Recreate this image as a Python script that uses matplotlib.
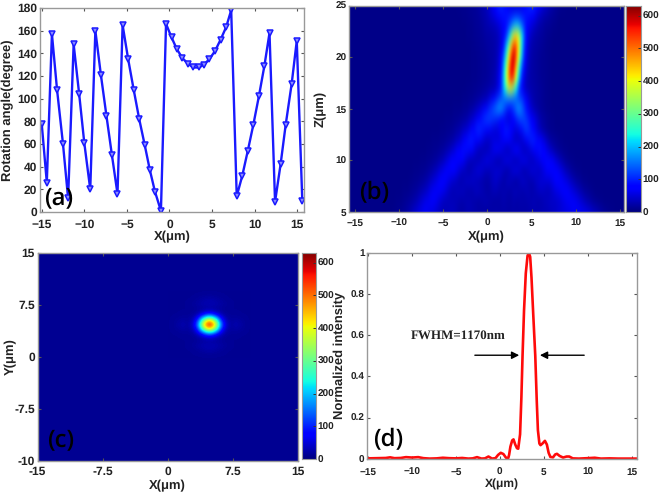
#!/usr/bin/env python3
import numpy as np
from matplotlib import pyplot as plt
from matplotlib import transforms

W, H = 660., 494.

# panel a, rotation angle
angle_x = [-15.0,-14.4,-13.8,-13.2,-12.5,-11.9,-11.25,-10.6,-10.0,-9.3,-8.7,-8.05,-7.4,-6.75,-6.1,-5.5,
           -4.85,-4.2,-3.55,-2.9,-2.3,-1.7,-1.0,-0.4,0.25,0.85,1.5,2.15,2.8,3.45,4.05,4.7,5.35,6.0,6.65,
           7.25,7.9,8.55,9.2,9.85,10.5,11.15,11.75,12.4,13.05,13.65,14.35,14.95,15.6]
angle_y = [78,26,157,108,60,12,148,104,61,20,160,121,85,50,16,165,135,108,82,59,37,18,1,166,154,144,136,
           131,127.5,127.5,130,135,142,152,163,178,14,32,54,77,102,129,158,9,42,77,113,151,10]

# panel b, intensity, finer grid around the focus, rows z=5..25
focus_x = [-15,-14,-13,-12,-11,-10,-9,-8,-7,-6,-5,-4,-3,-2,-1,0,1, 1.5,2,2.5,3,3.5,4,4.5,5, 6,7,8,9,10,11,12,13,14,15]
focus_z = list(range(5, 26))
focus_i = [
 [5,5,5,5,6,10,22,50,68,50,30,38,22,30,24,20,26, 22,25,20,25,22,25,22,28, 30,32,45,55,68,62,42,20,8,5],
 [5,5,5,5,6,8,14,30,62,70,32,35,25,32,20,30,18, 25,28,20,28,20,30,22,32, 24,40,40,65,70,36,15,7,5,5],
 [5,5,5,5,5,6,9,18,38,72,62,25,40,22,40,20,35, 20,35,18,35,35,18,38,22, 40,30,60,75,45,18,7,5,5,5],
 [5,5,5,5,5,5,7,11,22,50,78,45,25,45,30,20,45, 30,20,45,20,20,48,30,25, 50,45,80,55,22,8,5,5,5,5],
 [5,5,5,5,5,5,6,8,13,28,62,85,40,25,55,30,45, 50,25,25,55,55,25,28,55, 35,80,70,30,9,6,5,5,5,5],
 [5,5,5,5,5,5,5,6,9,15,32,75,80,30,30,60,30, 25,55,60,30,30,65,55,30, 60,90,40,12,7,5,5,5,5,5],
 [5,5,5,5,5,5,5,5,7,10,16,40,85,85,30,30,70, 65,35,30,70,75,35,35,55, 95,45,14,7,5,5,5,5,5,5],
 [5,5,5,5,5,5,5,5,6,8,11,20,45,100,75,35,55, 45,85,75,40,35,45,75,105, 75,22,9,6,5,5,5,5,5,5],
 [5,5,5,5,5,5,5,5,5,6,8,12,28,55,110,75,45, 60,100,90,55,50,90,125,90, 28,10,6,5,5,5,5,5,5,5],
 [5,5,5,5,5,5,5,5,5,5,7,9,14,30,70,125,100, 85,60,50,75,110,130,110,75, 25,10,6,5,5,5,5,5,5,5],
 [5,5,5,5,5,5,5,5,5,5,6,7,9,16,38,85,150, 190,120,70,110,185,140,80,40, 14,8,5,5,5,5,5,5,5,5],
 [5,5,5,5,5,5,5,5,5,5,5,6,7,10,18,32,90, 130,150,170,150,125,110,60,30, 14,8,5,5,5,5,5,5,5,5],
 [5,5,5,5,5,5,5,5,5,5,5,5,6,8,12,20,30, 75,210,430,340,130,55,30,25, 15,8,5,5,5,5,5,5,5,5],
 [5,5,5,5,5,5,5,5,5,5,5,5,5,7,10,16,30, 70,220,560,590,210,70,30,22, 14,7,5,5,5,5,5,5,5,5],
 [5,5,5,5,5,5,5,5,5,5,5,5,5,7,10,16,25, 60,190,530,660,290,90,35,22, 14,7,5,5,5,5,5,5,5,5],
 [5,5,5,5,5,5,5,5,5,5,5,5,5,7,10,16,25, 50,150,440,680,420,130,40,22, 14,7,5,5,5,5,5,5,5,5],
 [5,5,5,5,5,5,5,5,5,5,5,5,5,7,11,18,25, 40,110,310,620,470,150,45,25, 15,8,5,5,5,5,5,5,5,5],
 [5,5,5,5,5,5,5,5,5,5,5,5,6,8,12,20,28, 40,80,170,430,450,170,60,30, 18,9,5,5,5,5,5,5,5,5],
 [5,5,5,5,5,5,5,5,5,5,5,5,6,8,14,25,35, 55,75,110,200,220,130,75,50, 22,12,6,5,5,5,5,5,5,5],
 [5,5,5,5,5,5,5,5,5,5,5,6,7,10,16,30,60, 85,90,90,100,105,95,90,80, 35,18,8,5,5,5,5,5,5,5],
 [5,5,5,5,5,5,5,5,5,5,5,6,8,11,18,35,80, 110,85,55,50,50,55,90,115, 60,30,12,6,5,5,5,5,5,5],
]

# panel c, spot near (4.77, 4.63), 0.75 um grid, the rest of the plane is flat
spot_bg = 12
spot_x0, spot_x1 = 0.0, 9.54
spot_y0, spot_y1 = -0.14, 9.4
spot_i = [
 [12,12,12,12,12,12,12,12,12,12,12,12,12],
 [12,12,12,12,14,20,24,20,14,12,12,12,12],
 [12,12,12,14,20,28,32,28,20,14,12,12,12],
 [12,12,12,12,14,16,16,16,14,12,12,12,12],
 [12,12,14,14,20,60,110,60,20,14,14,12,12],
 [12,16,20,14,60,270,410,270,60,14,20,16,12],
 [12,20,30,14,110,410,630,410,110,14,30,20,12],
 [12,16,20,14,60,270,410,270,60,14,20,16,12],
 [12,12,14,14,20,60,110,60,20,14,14,12,12],
 [12,12,12,12,14,16,16,16,14,12,12,12,12],
 [12,12,12,14,20,28,32,28,20,14,12,12,12],
 [12,12,12,12,14,20,24,20,14,12,12,12,12],
 [12,12,12,12,12,12,12,12,12,12,12,12,12],
]

# panel d, normalized intensity
prof_x = [-15.1,-14,-13,-12.5,-12,-11.3,-10.7,-10,-9.3,-8.7,-8,-7.2,-6.5,-5.8,-5,-4.3,-3.6,-3.1,-2.6,-2.1,-1.7,
          -1.3,-0.9,-0.5,-0.2,0.1,0.4,0.7,0.95,1.05,1.2,1.4,1.55,1.75,1.95,2.09,2.3,2.45,2.58,2.75,2.95,3.15,
          3.3,3.45,3.6,3.8,4.03,4.2,4.33,4.5,4.63,4.85,5.13,5.35,5.55,5.75,6.05,6.3,6.5,6.8,7.2,7.6,7.9,8.3,
          9,10,10.8,11.5,12.5,13.5,14.5,15.7]
prof_y = [.003,.004,.005,.008,.004,.005,.009,.007,.009,.004,.002,.003,.006,.004,.003,.005,.002,.003,.009,.002,.003,
          .012,.002,.004,.02,.03,.024,.006,.004,.02,.06,.09,.095,.07,.052,.05,.12,.3,.5,.72,.9,.985,
          1.0,.98,.88,.7,.5,.28,.14,.075,.067,.075,.088,.07,.03,.01,.008,.022,.025,.015,.007,.012,.012,.003,
          .002,.004,.006,.002,.003,.002,.002,.002]

text_c = '#222222'
box_c = '#999999'
plt.rcParams['font.family'] = ['Liberation Sans', 'DejaVu Sans']
plt.rcParams['font.weight'] = 'bold'
plt.rcParams['axes.labelweight'] = 'bold'
plt.rcParams['text.color'] = text_c
plt.rcParams['axes.labelcolor'] = text_c
plt.rcParams['text.hinting'] = 'no_hinting'
plt.rcParams['text.hinting_factor'] = 1


def panel(fig, x0, y0, x1, y1):
    # pixel box, y measured from the top of the image
    return fig.add_axes([x0/W, 1-y1/H, (x1-x0)/W, (y1-y0)/H])


def dress(ax, size, xpad):
    ax.tick_params(direction='in', length=2.5, width=0.8, color='#555555', labelsize=size,
                   labelcolor=text_c, top=True, right=True, pad=2)
    ax.tick_params(axis='x', pad=xpad)
    for s in ax.spines.values():
        s.set_color(box_c)
        s.set_linewidth(1.0)


def labels(ax, xlab, xtop, xsize, ylab, yright, ysize):
    # xtop and yright are pixel positions of the label edge next to the axes
    ax.set_xlabel(xlab, fontsize=xsize)
    ax.set_ylabel(ylab, fontsize=ysize)
    fig = ax.figure
    ax.xaxis.set_label_coords(0.5, 1-xtop/H, transform=transforms.blended_transform_factory(ax.transAxes, fig.transFigure))
    ax.yaxis.set_label_coords(yright/W, 0.5, transform=transforms.blended_transform_factory(fig.transFigure, ax.transAxes))


def colorbar(fig, x0, y0, x1, y1, vmax, size):
    cax = panel(fig, x0, y0, x1, y1)
    levels = np.arange(0, vmax+1)[:, None]
    cax.imshow(levels, origin='lower', cmap='jet', vmin=0, vmax=vmax, aspect='auto', extent=[0, 1, 0, vmax])
    cax.set_xticks([])
    cax.yaxis.tick_right()
    cax.set_yticks([0, 100, 200, 300, 400, 500, 600])
    cax.tick_params(direction='in', length=2, width=0.7, color='#333333', labelsize=size,
                    labelcolor=text_c, pad=1)
    for s in cax.spines.values():
        s.set_color(box_c)
    return cax


def tag(ax, x, y, s):
    ax.text(x, y, s, fontsize=17, fontweight='semibold', color='black', family='Open Sans',
            transform=ax.transAxes, ha='left', va='center')


fig = plt.figure(figsize=(6.6, 4.94), dpi=100)
jet = plt.get_cmap('jet')

# (a)
ax = panel(fig, 40, 8, 304, 212)
ax.plot(angle_x, angle_y, '-v', color='#1a1aff', lw=1.7, ms=4.5, mfc='#8c8cff', mec='#1a1aff', mew=1.1)
ax.set_xlim(-15.2, 15.8)
ax.set_ylim(0, 180)
ax.set_xticks([-15, -10, -5, 0, 5, 10, 15])
ax.set_yticks(range(0, 181, 20))
dress(ax, 8.3, 5)
labels(ax, 'X(\u03bcm)', 231, 9.5, 'Rotation angle(degree)', 14, 9.2)
tag(ax, 0.015, 0.07, '(a)')

# (b), the uneven grid goes on an even one for imshow, softened a little like the picture
ax = panel(fig, 349.3, 5.7, 624.3, 212)
even_x = np.arange(-16, 16.01, 0.25)
kernel = np.array([1, 4, 6, 4, 1])/16.
focus_even = [np.convolve(np.interp(even_x, focus_x, row), kernel, mode='same') for row in focus_i]
ax.imshow(focus_even, origin='lower', cmap='jet', vmin=0, vmax=630, aspect='auto', interpolation='bicubic',
          extent=[even_x[0]-0.125, even_x[-1]+0.125, focus_z[0]-0.5, focus_z[-1]+0.5])
ax.set_xlim(-15.65, 15.5)
ax.set_ylim(5, 25)
ax.set_xticks([-15, -10, -5, 0, 5, 10, 15])
ax.set_yticks([5, 10, 15, 20, 25])
dress(ax, 7.5, 5)
labels(ax, 'X(\u03bcm)', 231, 9.5, 'Z(\u03bcm)', 327, 9.5)
tag(ax, 0.035, 0.09, '(b)')
colorbar(fig, 626, 5.7, 641, 212, 630, 7)

# (c)
ax = panel(fig, 37.7, 252.7, 297.7, 461)
ax.set_facecolor(jet(spot_bg/630))
ax.imshow(spot_i, origin='lower', cmap='jet', vmin=0, vmax=630, aspect='auto', interpolation='bicubic',
          extent=[spot_x0, spot_x1, spot_y0, spot_y1])
ax.set_xlim(-15, 15)
ax.set_ylim(-15, 15)
ax.set_xticks([-15, -7.5, 0, 7.5, 15])
ax.set_xticklabels(['-15', '-7.5', '0', '7.5', '15'])
ax.set_yticks([-15, -7.5, 0, 7.5, 15])
ax.set_yticklabels(['-10', '-7.5', '0', '7.5', '15'])
dress(ax, 8.3, 3.5)
labels(ax, 'X(\u03bcm)', 480, 9.5, 'Y(\u03bcm)', 17, 9.5)
tag(ax, 0.035, 0.10, '(c)')
colorbar(fig, 301.7, 252.7, 316, 459, 630, 7)

# (d)
ax = panel(fig, 367.3, 252.7, 637.3, 459)
ax.plot(prof_x, prof_y, '-', color='#ff0a0a', lw=1.9)
ax.set_xlim(-15.1, 15.65)
ax.set_ylim(0, 1)
ax.set_xticks([-15, -10, -5, 0, 5, 10, 15])
ax.set_yticks([0, .2, .4, .6, .8, 1])
ax.set_yticklabels(['0', '0.2', '0.4', '0.6', '0.8', '1'])
dress(ax, 7.5, 6)
labels(ax, 'X(\u03bcm)', 479, 8.8, 'Normalized intensity', 346, 9.2)
ax.text(-10.2, 0.6, 'FWHM=1170nm', family='Liberation Serif', fontsize=9.5, fontweight='bold',
        color=text_c, ha='left', va='center')
ax.annotate('', xy=(2.2, 0.503), xytext=(-2.85, 0.503),
            arrowprops=dict(arrowstyle='-|>', color='black', lw=1, mutation_scale=11, shrinkA=0, shrinkB=0))
ax.annotate('', xy=(4.56, 0.503), xytext=(9.6, 0.503),
            arrowprops=dict(arrowstyle='-|>', color='black', lw=1, mutation_scale=11, shrinkA=0, shrinkB=0))
tag(ax, 0.02, 0.09, '(d)')

fig.savefig('out.png', dpi=100)
